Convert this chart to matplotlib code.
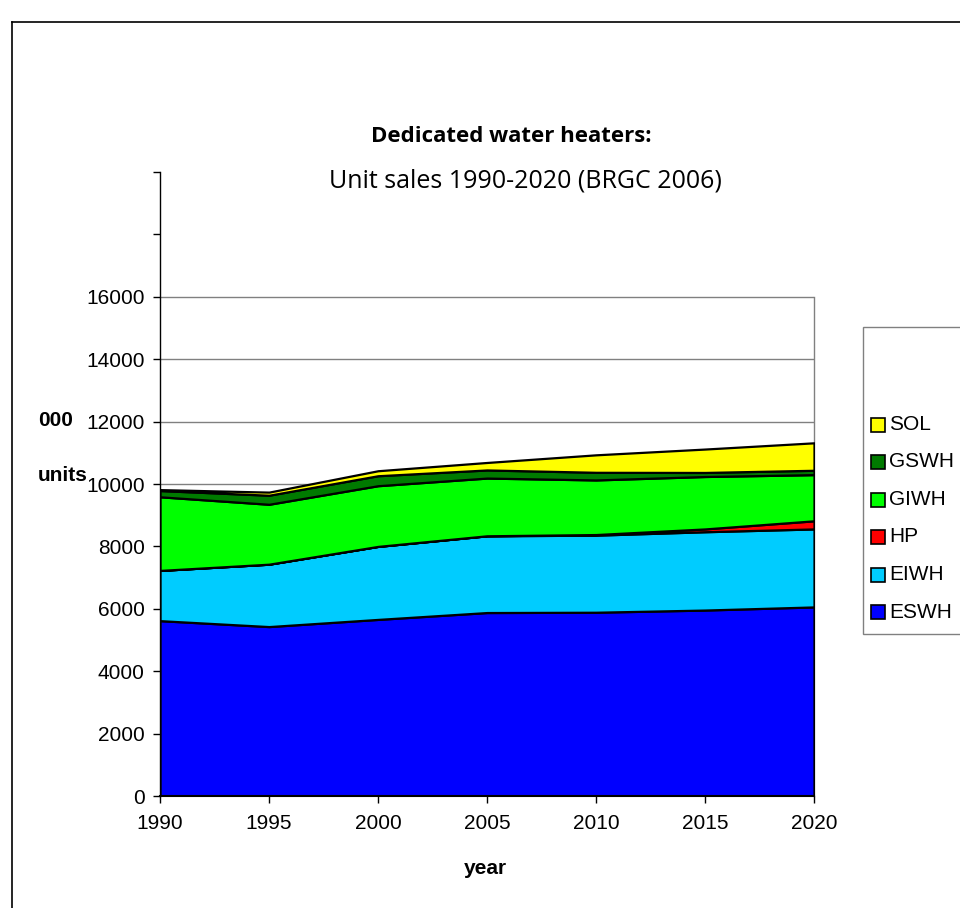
import numpy as np
import matplotlib.pyplot as plt
from matplotlib.patches import Rectangle
from matplotlib.lines import Line2D

# data (thousand units)
years = [1990, 1995, 2000, 2005, 2010, 2015, 2020]
eswh = [5620, 5430, 5660, 5880, 5890, 5960, 6060]
eiwh = [1610, 2000, 2340, 2460, 2470, 2510, 2500]
hp = [0, 0, 0, 0, 20, 90, 260]
giwh = [2360, 1920, 1945, 1850, 1750, 1680, 1480]
gswh = [200, 290, 320, 260, 245, 130, 140]
sol = [30, 100, 160, 240, 560, 750, 880]

names = ['ESWH', 'EIWH', 'HP', 'GIWH', 'GSWH', 'SOL']
colors = ['#0000FF', '#00CCFF', '#FF0000', '#00FF00', '#007A00', '#FFFF00']

plt.rcParams['font.family'] = ['Liberation Sans', 'DejaVu Sans']

W, H = 960, 908
fig = plt.figure(figsize=(W / 100, H / 100), dpi=100)
ax = fig.add_axes([160 / W, 1 - 796 / H, 654 / W, 624 / H])

# gridlines (only up to 16000) and plot-area right border
for v in range(2000, 16001, 2000):
    ax.plot([1990, 2020], [v, v], color='#808080', lw=1, zorder=0)
ax.plot([2020, 2020], [0, 16000], color='#808080', lw=1, zorder=0, clip_on=False)

ax.stackplot(years, eswh, eiwh, hp, giwh, gswh, sol, colors=colors,
             edgecolor='black', linewidth=1.6, zorder=2)

ax.set_xlim(1990, 2020)
ax.set_ylim(0, 20000)
ax.set_xticks(years)
ax.set_yticks(range(0, 20001, 2000))
ax.set_yticklabels([str(v) if v <= 16000 else '' for v in range(0, 20001, 2000)])
ax.tick_params(axis='both', labelsize=15, direction='out', length=5, width=1)
ax.tick_params(axis='x', pad=8)
ax.tick_params(axis='y', pad=6)
ax.spines['top'].set_visible(False)
ax.spines['right'].set_visible(False)
ax.spines['left'].set_linewidth(1)
ax.spines['bottom'].set_linewidth(1.5)
ax.spines['bottom'].set_zorder(3)

# titles and axis labels
fig.text(511 / W, 1 - 137 / H, 'Dedicated water heaters:', ha='center', va='center',
         fontsize=16, fontweight='bold', family=['Open Sans', 'DejaVu Sans'])
fig.text(525 / W, 1 - 181 / H, 'Unit sales 1990-2020 (BRGC 2006)', ha='center', va='center',
         fontsize=18, family=['Open Sans', 'DejaVu Sans'])
fig.text(485 / W, 1 - 869 / H, 'year', ha='center', va='center', fontsize=15, fontweight='bold')
fig.text(56 / W, 1 - 421 / H, '000', ha='center', va='center', fontsize=15, fontweight='bold')
fig.text(63 / W, 1 - 476 / H, 'units', ha='center', va='center', fontsize=15, fontweight='bold')

# outer frame (cut off at right/bottom)
fig.add_artist(Line2D([12 / W, 1], [1 - 22 / H, 1 - 22 / H], color='black', lw=1.2))
fig.add_artist(Line2D([12 / W, 12 / W], [1 - 22 / H, 0], color='black', lw=1.2))

# legend box
fig.add_artist(Rectangle((863 / W, 1 - 634 / H), 200 / W, 307 / H, transform=fig.transFigure,
                         facecolor='white', edgecolor='#808080', lw=1))
ys = [425, 462, 500, 537, 575, 612]
for name, col, y in zip(names[::-1], colors[::-1], ys):
    fig.add_artist(Rectangle((871 / W, 1 - (y + 7) / H), 14 / W, 14 / H, transform=fig.transFigure,
                             facecolor=col, edgecolor='black', lw=1.2))
    fig.text(889 / W, 1 - y / H, name, ha='left', va='center', fontsize=15)

fig.savefig('out.png', dpi=100)
